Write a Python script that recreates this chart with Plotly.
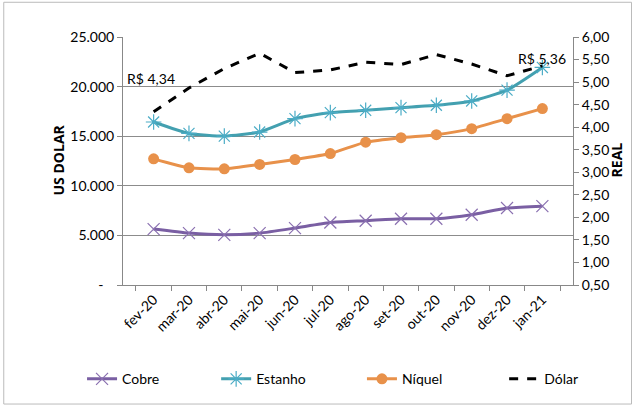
import plotly.graph_objects as go

meses = ["fev-20", "mar-20", "abr-20", "mai-20", "jun-20", "jul-20",
         "ago-20", "set-20", "out-20", "nov-20", "dez-20", "jan-21"]
cobre = [5640, 5230, 5060, 5230, 5740, 6300, 6480, 6680, 6680, 7080, 7760, 7950]
estanho = [16430, 15280, 15010, 15420, 16770, 17380, 17610, 17880, 18120, 18550, 19640, 21930]
niquel = [12720, 11810, 11710, 12150, 12650, 13250, 14400, 14850, 15150, 15760, 16770, 17780]
dolar = [4.34, 4.87, 5.30, 5.64, 5.21, 5.27, 5.44, 5.39, 5.61, 5.40, 5.14, 5.36]

left_vals = [0, 5000, 10000, 15000, 20000, 25000]
left_text = ["-\u00a0\u00a0\u00a0", "5.000", "10.000", "15.000", "20.000", "25.000"]
right_vals = [0.5, 1.0, 1.5, 2.0, 2.5, 3.0, 3.5, 4.0, 4.5, 5.0, 5.5, 6.0]
right_text = ["0,50", "1,00", "1,50", "2,00", "2,50", "3,00", "3,50", "4,00",
              "4,50", "5,00", "5,50", "6,00"]
lbl_first = "R$ 4,34"
lbl_last = "R$ 5,36"

FONT = "Lato, Open Sans, sans-serif"
TFONT = "Open Sans, sans-serif"

fig = go.Figure()
fig.add_trace(go.Scatter(x=meses, y=cobre, name="Cobre", mode="lines+markers", legend="legend",
                         line=dict(color="#7A5FA3", width=3, shape="spline", smoothing=0.5),
                         marker=dict(symbol="x-thin-open", size=12, color="#8A70B0",
                                     line=dict(width=1.2, color="#8A70B0"))))
fig.add_trace(go.Scatter(x=meses, y=estanho, name="Estanho", mode="lines+markers", legend="legend2",
                         line=dict(color="#43A0B0", width=3, shape="spline", smoothing=0.5),
                         marker=dict(symbol="asterisk-open", size=13, color="#4BACC6",
                                     line=dict(width=1.2, color="#4BACC6"))))
fig.add_trace(go.Scatter(x=meses, y=niquel, name="Níquel", mode="lines+markers", legend="legend3",
                         line=dict(color="#E8914A", width=3, shape="spline", smoothing=0.5),
                         marker=dict(symbol="circle", size=11, color="#E8914A")))
fig.add_trace(go.Scatter(x=meses, y=dolar, name="Dólar", mode="lines", yaxis="y2", legend="legend4",
                         line=dict(color="black", width=3, dash="dash")))

fig.add_annotation(x=meses[0], y=dolar[0], yref="y2", text=lbl_first, showarrow=False,
                   xshift=-3, yshift=33, font=dict(size=14, color="black", family=FONT))
fig.add_annotation(x=meses[-1], y=dolar[-1], yref="y2", text=lbl_last, showarrow=False,
                   xshift=0, yshift=7, font=dict(size=14, color="black", family=FONT))
fig.add_annotation(x=-0.169, y=0.504, xref="paper", yref="paper", text="<b>US DOLAR</b>",
                   textangle=-90, showarrow=False, font=dict(size=14, family=TFONT, color="black"))
fig.add_annotation(x=1.122, y=0.504, xref="paper", yref="paper", text="<b>REAL</b>",
                   textangle=-90, showarrow=False, font=dict(size=14, family=TFONT, color="black"))

leg = dict(orientation="h", xanchor="left", y=-0.38, yanchor="middle",
           font=dict(size=14, family=FONT), bgcolor="rgba(0,0,0,0)")
fig.update_layout(
    width=642, height=406,
    margin=dict(l=123, r=69, t=37, b=121, autoexpand=False),
    paper_bgcolor="white", plot_bgcolor="white",
    font=dict(family=FONT, size=13, color="black"),
    showlegend=True,
    legend=dict(leg, x=-0.091),
    legend2=dict(leg, x=0.207),
    legend3=dict(leg, x=0.531),
    legend4=dict(leg, x=0.847),
    xaxis=dict(type="category", showline=True, linecolor="#888888", linewidth=1,
               ticks="outside", tickson="boundaries", ticklen=5, tickcolor="#888888",
               tickangle=-45, showgrid=False, tickfont=dict(size=14), automargin=False),
    yaxis=dict(range=[0, 25000], tickvals=left_vals, ticktext=left_text,
               showline=True, linecolor="#888888", ticks="outside", ticklen=5,
               tickcolor="#888888", showgrid=True, gridcolor="#8c8c8c", gridwidth=1,
               zeroline=False, tickfont=dict(size=14), automargin=False),
    yaxis2=dict(range=[0.5, 6.0], tickvals=right_vals, ticktext=right_text, overlaying="y",
                side="right", showline=True, linecolor="#888888", ticks="outside", ticklen=5,
                tickcolor="#888888", showgrid=False, zeroline=False, tickfont=dict(size=14),
                automargin=False),
)
fig.add_shape(type="rect", xref="paper", yref="paper", x0=-0.265, x1=1.13, y0=-0.48, y1=1.14,
              line=dict(color="#bbbbbb", width=1))

fig.write_html("out.html", config={"displayModeBar": False},
               post_script="document.body.style.margin='0';document.body.style.overflow='hidden';")
